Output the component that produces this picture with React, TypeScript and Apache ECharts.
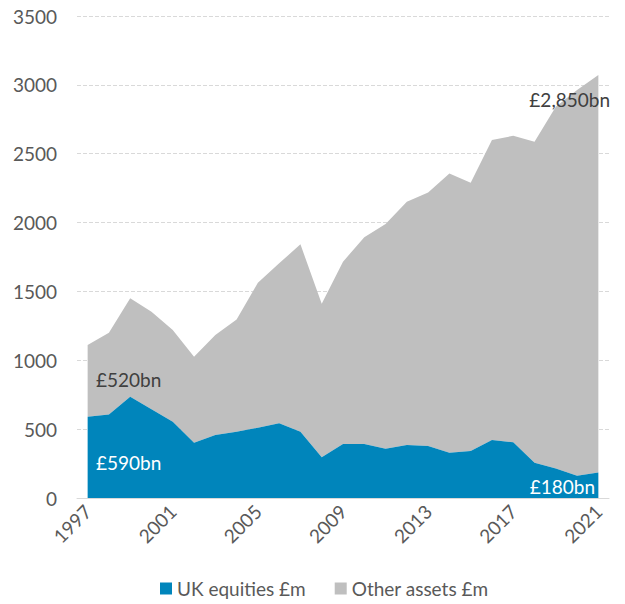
import React, { useEffect, useRef } from "react";
import * as echarts from "echarts";

const years = [
  "1997", "1998", "1999", "2000", "2001", "2002", "2003", "2004", "2005",
  "2006", "2007", "2008", "2009", "2010", "2011", "2012", "2013", "2014",
  "2015", "2016", "2017", "2018", "2019", "2020", "2021",
];
const ukEquities = [
  590, 607, 735, 644, 554, 402, 457, 481, 511, 542, 481, 295, 392, 392, 358,
  385, 378, 329, 341, 421, 404, 256, 215, 162, 186,
];
const totals = [
  1111, 1200, 1450, 1353, 1220, 1026, 1183, 1297, 1563, 1704, 1842, 1410,
  1716, 1893, 1989, 2151, 2219, 2357, 2289, 2599, 2630, 2587, 2841, 2962, 3071,
];
const otherAssets = totals.map((t, i) => t - ukEquities[i]);

const BLUE = "#0085BB";
const GREY = "#BFBFBF";
const FONT = "Lato, 'Open Sans', sans-serif";
const FS = 19;

export default function App() {
  const ref = useRef<HTMLDivElement>(null);
  useEffect(() => {
    document.body.style.margin = "0";
    if (!ref.current) return;
    const chart = echarts.init(ref.current, undefined, { renderer: "svg" });
    chart.setOption({
      animation: false,
      textStyle: { fontFamily: FONT },
      grid: { left: 77, right: 16, top: 16, bottom: 106, containLabel: false },
      legend: {
        left: 160,
        top: 579,
        padding: 0,
        icon: "rect",
        itemWidth: 12,
        itemHeight: 12,
        itemGap: 29,
        textStyle: { fontSize: FS, color: "#595959", fontFamily: FONT },
        data: ["UK equities £m", "Other assets £m"],
      },
      xAxis: {
        type: "category",
        data: years,
        boundaryGap: true,
        axisLine: { show: true, lineStyle: { color: "#D9D9D9", width: 1 } },
        axisTick: { show: false },
        axisLabel: {
          interval: 3,
          rotate: 45,
          margin: 10,
          fontSize: FS,
          color: "#595959",
          fontFamily: FONT,
        },
      },
      yAxis: {
        type: "value",
        min: 0,
        max: 3500,
        interval: 500,
        axisLine: { show: false },
        axisTick: { show: false },
        axisLabel: {
          fontSize: FS,
          color: "#595959",
          margin: 20,
          fontFamily: FONT,
          formatter: (v: number) => String(v),
        },
        splitLine: { lineStyle: { color: "#D9D9D9", type: [4, 2], width: 1 } },
      },
      series: [
        {
          name: "UK equities £m",
          type: "line",
          stack: "total",
          data: ukEquities,
          symbol: "none",
          lineStyle: { width: 0 },
          areaStyle: { color: BLUE, opacity: 1 },
          itemStyle: { color: BLUE },
          z: 3,
        },
        {
          name: "Other assets £m",
          type: "line",
          stack: "total",
          data: otherAssets,
          symbol: "none",
          lineStyle: { width: 0 },
          areaStyle: { color: GREY, opacity: 1 },
          itemStyle: { color: GREY },
          z: 2,
        },
      ],
      graphic: [
        {
          type: "text",
          left: 96,
          top: 370,
          z: 10,
          style: { text: "£520bn", fontSize: FS, fill: "#404040", fontFamily: FONT },
        },
        {
          type: "text",
          left: 96,
          top: 453,
          z: 10,
          style: { text: "£590bn", fontSize: FS, fill: "#FFFFFF", fontFamily: FONT },
        },
        {
          type: "text",
          right: 30,
          top: 477,
          z: 10,
          style: { text: "£180bn", fontSize: FS, fill: "#FFFFFF", fontFamily: FONT },
        },
        {
          type: "text",
          right: 15,
          top: 90,
          z: 10,
          style: { text: "£2,850bn", fontSize: FS, fill: "#404040", fontFamily: FONT },
        },
      ],
    });
    return () => chart.dispose();
  }, []);
  return <div ref={ref} style={{ width: 625, height: 604 }} />;
}
